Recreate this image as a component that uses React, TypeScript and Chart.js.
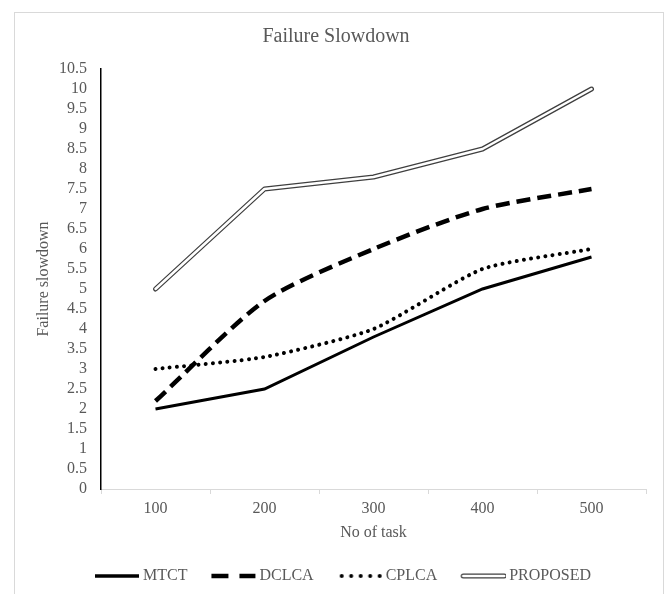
import React, { useEffect, useRef } from 'react';
import { Chart, registerables } from 'chart.js';

Chart.register(...registerables);

// ---- data ----
const categories = ['100', '200', '300', '400', '500'];
const mtct = [2.0, 2.5, 3.8, 5.0, 5.8];
const dclca = [2.2, 4.7, 6.0, 7.0, 7.5];
const cplca = [3.0, 3.3, 4.0, 5.5, 6.0];
const proposed = [5.0, 7.5, 7.8, 8.5, 10.0];
const seriesNames = ['MTCT', 'DCLCA', 'CPLCA', 'PROPOSED'];
const yMin = 0;
const yMax = 10.5;
const yStep = 0.5;
const chartTitle = 'Failure Slowdown';
const xTitle = 'No of task';
const yTitle = 'Failure slowdown';

const FONT = "'Liberation Serif', 'Times New Roman', serif";
const TEXT = '#595959';

function makeSample(kind: string): HTMLCanvasElement {
  const c = document.createElement('canvas');
  c.width = 64;
  c.height = 16;
  const g = c.getContext('2d') as CanvasRenderingContext2D;
  const y = 8;
  g.strokeStyle = '#000';
  if (kind === 'solid') {
    g.lineWidth = 3.5;
    g.beginPath(); g.moveTo(19, y); g.lineTo(63, y); g.stroke();
  } else if (kind === 'dash') {
    g.lineWidth = 4.5;
    g.beginPath(); g.moveTo(19, y); g.lineTo(36, y); g.stroke();
    g.beginPath(); g.moveTo(47, y); g.lineTo(63, y); g.stroke();
  } else if (kind === 'dot') {
    g.fillStyle = '#000';
    for (let i = 0; i < 5; i++) {
      const x = 23 + i * 9.5;
      g.beginPath(); g.arc(x, y, 2, 0, Math.PI * 2); g.fill();
    }
  } else {
    g.lineCap = 'round';
    g.strokeStyle = '#3f3f3f';
    g.lineWidth = 5;
    g.beginPath(); g.moveTo(21, y); g.lineTo(62, y); g.stroke();
    g.strokeStyle = '#ffffff';
    g.lineWidth = 2.5;
    g.beginPath(); g.moveTo(21, y); g.lineTo(62, y); g.stroke();
  }
  return c;
}

export default function App() {
  const ref = useRef<HTMLCanvasElement>(null);

  useEffect(() => {
    const canvas = ref.current;
    if (!canvas) return;
    Chart.defaults.font.family = FONT;
    Chart.defaults.color = TEXT;
    const images = [makeSample('solid'), makeSample('dash'), makeSample('dot'), makeSample('double')];

    const chart = new Chart(canvas, {
      type: 'line',
      data: {
        labels: categories,
        datasets: [
          { label: seriesNames[0], data: mtct, borderColor: '#000', borderWidth: 3, tension: 0, pointRadius: 0, order: 4 },
          { label: seriesNames[1], data: dclca, borderColor: '#000', borderWidth: 4.5, borderDash: [14, 7], tension: 0.25, pointRadius: 0, order: 3 },
          { label: seriesNames[2], data: cplca, borderColor: '#000', borderWidth: 4, borderDash: [0.01, 7.2], borderCapStyle: 'round', tension: 0.2, pointRadius: 0, order: 2 },
          { label: seriesNames[3], data: proposed, borderColor: '#3f3f3f', borderWidth: 5, borderCapStyle: 'round', borderJoinStyle: 'round', tension: 0, pointRadius: 0, order: 1 },
          { label: seriesNames[3] + ' inner', data: proposed, borderColor: '#ffffff', borderWidth: 2.5, borderCapStyle: 'round', borderJoinStyle: 'round', tension: 0, pointRadius: 0, order: 0 },
        ] as any,
      },
      options: {
        responsive: false,
        maintainAspectRatio: false,
        animation: false,
        devicePixelRatio: 1,
        events: [],
        layout: { padding: { left: 26, right: 21, top: 0, bottom: 0 } },
        plugins: {
          title: {
            display: true,
            text: chartTitle,
            color: TEXT,
            font: { size: 20, family: FONT, weight: 'normal' },
            padding: { top: 25, bottom: 20 },
          },
          legend: {
            position: 'bottom',
            labels: {
              usePointStyle: true,
              pointStyleWidth: 54,
              boxHeight: 16,
              padding: 10,
              color: TEXT,
              font: { size: 16, family: FONT },
              generateLabels: () =>
                seriesNames.map((name, i) => ({
                  text: name,
                  pointStyle: images[i] as any,
                  fillStyle: 'rgba(0,0,0,0)',
                  strokeStyle: 'rgba(0,0,0,0)',
                  lineWidth: 0,
                  hidden: false,
                  datasetIndex: i,
                  fontColor: TEXT,
                })),
            },
          },
          tooltip: { enabled: false },
        },
        scales: {
          x: {
            type: 'category',
            offset: true,
            grid: { display: true, drawOnChartArea: false, drawTicks: true, tickLength: 5, color: '#d9d9d9', offset: true },
            border: { display: true, color: '#d9d9d9', width: 1 },
            ticks: { color: TEXT, font: { size: 16, family: FONT }, padding: 5, maxRotation: 0, autoSkip: false },
            title: { display: true, text: xTitle, color: TEXT, font: { size: 16, family: FONT }, padding: { top: 0, bottom: 16 } },
            afterFit: (s: any) => { s.height = 69; },
          },
          y: {
            type: 'linear',
            min: yMin,
            max: yMax,
            grid: { display: false, drawTicks: false },
            border: { display: true, color: '#000', width: 1.5 },
            ticks: {
              stepSize: yStep,
              autoSkip: false,
              color: TEXT,
              font: { size: 16, family: FONT },
              padding: 14,
              callback: (v: any) => String(Math.round(Number(v) * 10) / 10),
            },
            title: { display: true, text: yTitle, color: TEXT, font: { size: 16, family: FONT }, padding: { top: 8, bottom: 0 } },
            afterFit: (s: any) => { s.width = 75; },
          },
        },
      } as any,
    });

    return () => chart.destroy();
  }, []);

  return (
    <div>
      <div
        style={{
          position: 'fixed',
          left: 14,
          top: 12,
          width: 650,
          height: 700,
          border: '1px solid #d9d9d9',
          boxSizing: 'border-box',
          background: '#ffffff',
        }}
      />
      <canvas
        ref={ref}
        width={667}
        height={594}
        style={{ position: 'fixed', left: 0, top: 0, width: 667, height: 594 }}
      />
    </div>
  );
}
